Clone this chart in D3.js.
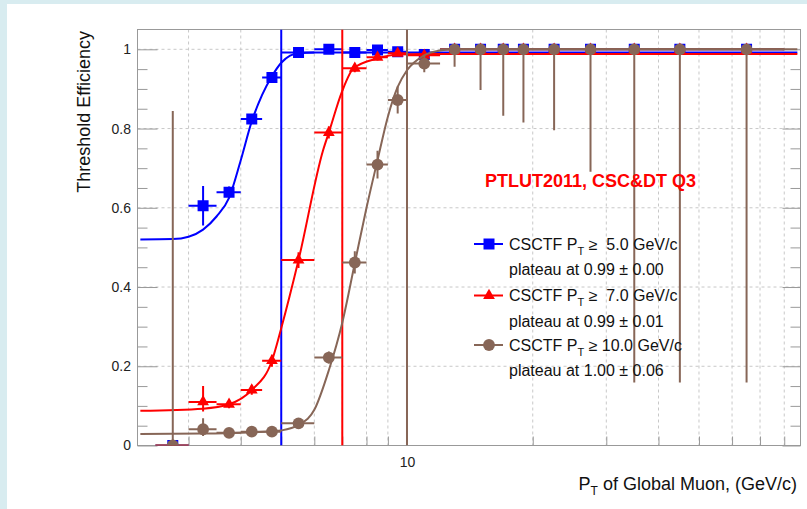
<!DOCTYPE html>
<html>
<head>
<meta charset="utf-8">
<script src="https://cdnjs.cloudflare.com/ajax/libs/d3/7.8.5/d3.min.js"></script>
<style>
  body { margin: 0; background: #d8ecf0; }
  svg { display: block; }
  text { font-family: "Liberation Sans", Arial, sans-serif; }
</style>
</head>
<body>
<script>
// bins of the muon pT (GeV/c)
var ptCenters    = [2.75, 3.25, 3.75, 4.25, 4.75, 5.5, 6.5, 7.5, 8.5, 9.5, 11, 13, 15, 17, 19, 22.5, 27.5, 35, 45, 65];
var ptHalfWidths = [0.25, 0.25, 0.25, 0.25, 0.25, 0.5, 0.5, 0.5, 0.5, 0.5, 1, 1, 1, 1, 1, 2.5, 2.5, 5, 5, 15];

// efficiency for CSCTF pT >= 5 GeV/c
var eff5   = [0, 0.605, 0.639, 0.824, 0.929, 0.992, 1.0, 0.992, 0.998, 0.994, 0.987, 1, 1, 1, 1, 1, 1, 1, 1, 1];
var eff5Lo = [0, 0.05, 0.015, 0.012, 0.01, 0.005, 0.004, 0.004, 0.003, 0.003, 0.004, 0, 0, 0, 0, 0, 0, 0, 0, 0];
var eff5Hi = [0, 0.05, 0.015, 0.012, 0.01, 0.005, 0, 0.004, 0.002, 0.003, 0.004, 0, 0, 0, 0, 0, 0, 0, 0, 0];

// efficiency for CSCTF pT >= 7 GeV/c
var eff7   = [0, 0.11, 0.104, 0.14, 0.214, 0.468, 0.79, 0.952, 0.98, 0.99, 0.985, 1, 1, 1, 1, 1, 1, 1, 1, 1];
var eff7Lo = [0, 0.024, 0.01, 0.012, 0.015, 0.02, 0.015, 0.01, 0.008, 0.006, 0.008, 0, 0, 0, 0, 0, 0, 0, 0, 0];
var eff7Hi = [0, 0.04, 0.01, 0.012, 0.015, 0.02, 0.015, 0.01, 0.008, 0.006, 0.008, 0, 0, 0, 0, 0, 0, 0, 0, 0];

// efficiency for CSCTF pT >= 10 GeV/c
var eff10   = [0, 0.041, 0.032, 0.035, 0.035, 0.056, 0.222, 0.462, 0.709, 0.872, 0.964, 1, 1, 1, 1, 1, 1, 1, 1, 1];
var eff10Lo = [0, 0.017, 0.008, 0.008, 0.008, 0.008, 0.015, 0.028, 0.035, 0.034, 0.022, 0.044, 0.103, 0.168, 0.185, 0.204, 0.309, 0.841, 0.841, 0.841];
var eff10Hi = [0.844, 0.028, 0.008, 0.008, 0.008, 0.008, 0.015, 0.028, 0.035, 0.034, 0.022, 0, 0, 0, 0, 0, 0, 0, 0, 0];

// fitted turn-on curves as [pT, efficiency]
var fit5  = [[2.3, 0.52], [2.75, 0.521], [3.0, 0.527], [3.25, 0.545], [3.5, 0.578], [3.75, 0.625], [4.0, 0.72], [4.25, 0.818],
             [4.5, 0.885], [4.75, 0.932], [5.0, 0.966], [5.25, 0.984], [5.5, 0.99], [6.0, 0.992], [86, 0.992]];
var fit7  = [[2.3, 0.0875], [3.25, 0.093], [3.75, 0.104], [4.25, 0.14], [4.75, 0.214], [5.0, 0.296], [5.5, 0.468], [6.3, 0.746],
             [6.5, 0.79], [7.0, 0.895], [7.45, 0.952], [8.5, 0.977], [9.55, 0.987], [11, 0.988], [86, 0.988]];
var fit10 = [[2.3, 0.029], [3.25, 0.03], [4.0, 0.032], [4.75, 0.036], [5.0, 0.038], [5.5, 0.052], [6.0, 0.09], [6.5, 0.19],
             [7.0, 0.31], [7.5, 0.46], [8.0, 0.6], [8.5, 0.72], [9.0, 0.83], [9.5, 0.905], [10, 0.947], [11, 0.985], [12, 0.997],
             [13, 1.0], [86, 1.0]];

var thresholds = [5.0, 7.0, 10.0];
var legendLabels = ["\u2265  5.0 GeV/c", "\u2265  7.0 GeV/c", "\u2265 10.0 GeV/c"];
var plateauLabels = ["plateau at 0.99 \u00b1 0.00", "plateau at 0.99 \u00b1 0.01", "plateau at 1.00 \u00b1 0.06"];

var xRange = [2.264, 87.5];
var yRange = [0, 1.05];
var xGridVals = [3, 4, 5, 6, 7, 8, 9, 10, 20, 30, 40, 50, 60, 70, 80];
var yMajorVals = [0, 0.2, 0.4, 0.6, 0.8, 1.0];
var yMinorVals = [0.05, 0.1, 0.15, 0.25, 0.3, 0.35, 0.45, 0.5, 0.55, 0.65, 0.7, 0.75, 0.85, 0.9, 0.95];

var width = 807, height = 509;
var frame = {left: 137.5, right: 800.5, top: 29.5, bottom: 445.5};

var svg = d3.select("body").append("svg")
            .attr("width", width)
            .attr("height", height);

svg.append("rect")
   .attr("x", 7).attr("y", 4)
   .attr("width", width - 7).attr("height", height - 4)
   .attr("fill", "#fff");

var x = d3.scaleLog().domain(xRange).range([frame.left, frame.right]);
var y = d3.scaleLinear().domain(yRange).range([frame.bottom, frame.top]);

svg.append("clipPath").attr("id", "clip")
   .append("rect")
   .attr("x", frame.left).attr("y", frame.top)
   .attr("width", frame.right - frame.left).attr("height", frame.bottom - frame.top);

// dashed grid
var grid = svg.append("g").attr("stroke", "#c8c8c8").attr("stroke-dasharray", "3,3").attr("stroke-width", 1);
grid.selectAll(".gx").data(xGridVals).enter().append("line")
    .attr("x1", function(d) { return x(d); }).attr("x2", function(d) { return x(d); })
    .attr("y1", frame.top).attr("y2", frame.bottom);
grid.selectAll(".gy").data(yMajorVals.slice(1)).enter().append("line")
    .attr("x1", frame.left).attr("x2", frame.right)
    .attr("y1", function(d) { return y(d); }).attr("y2", function(d) { return y(d); });

// axes (ticks drawn inside the frame like ROOT)
function styleAxis(g) {
  g.select(".domain").remove();
  g.selectAll("line").attr("stroke", "#999");
  g.selectAll("text").attr("fill", "#222").style("font-size", "14px")
   .style("font-family", "'Liberation Sans', Arial, sans-serif");
}
svg.append("g").attr("transform", "translate(0," + frame.bottom + ")")
   .call(d3.axisBottom(x).tickValues(xGridVals.filter(function(d) { return d != 10; }))
         .tickSizeInner(-9).tickSizeOuter(0).tickFormat(""))
   .call(styleAxis);
svg.append("g").attr("transform", "translate(0," + frame.bottom + ")")
   .call(d3.axisBottom(x).tickValues([10]).tickSizeInner(-15).tickSizeOuter(0).tickPadding(11.5)
         .tickFormat(d3.format("d")))
   .call(styleAxis);
svg.append("g").attr("transform", "translate(" + frame.left + ",0)")
   .call(d3.axisLeft(y).tickValues(yMajorVals).tickSizeInner(-20).tickSizeOuter(0).tickPadding(6.5)
         .tickFormat(d3.format("~g")))
   .call(styleAxis);
svg.append("g").attr("transform", "translate(" + frame.left + ",0)")
   .call(d3.axisLeft(y).tickValues(yMinorVals).tickSizeInner(-10).tickSizeOuter(0).tickFormat(""))
   .call(styleAxis);
svg.append("g").attr("transform", "translate(" + frame.right + ",0)")
   .call(d3.axisRight(y).tickValues(yMajorVals).tickSizeInner(-18).tickSizeOuter(0).tickFormat(""))
   .call(styleAxis);
svg.append("g").attr("transform", "translate(" + frame.right + ",0)")
   .call(d3.axisRight(y).tickValues(yMinorVals).tickSizeInner(-10).tickSizeOuter(0).tickFormat(""))
   .call(styleAxis);

svg.append("rect")
   .attr("x", frame.left).attr("y", frame.top)
   .attr("width", frame.right - frame.left).attr("height", frame.bottom - frame.top)
   .attr("fill", "none").attr("stroke", "#999").attr("stroke-width", 1);

var series = [
  {eff: eff5,  lo: eff5Lo,  hi: eff5Hi,  fit: fit5,  color: "#0000ff", symbol: d3.symbolSquare,   size: 121},
  {eff: eff7,  lo: eff7Lo,  hi: eff7Hi,  fit: fit7,  color: "#ff0000", symbol: d3.symbolTriangle, size: 60},
  {eff: eff10, lo: eff10Lo, hi: eff10Hi, fit: fit10, color: "#876657", symbol: d3.symbolCircle,   size: 110}
];

var plot = svg.append("g").attr("clip-path", "url(#clip)");
var fitLine = d3.line()
                .x(function(d) { return x(d[0]); })
                .y(function(d) { return y(d[1]); })
                .curve(d3.curveMonotoneX);

series.forEach(function(s, k) {
  var g = plot.append("g");
  var pts = ptCenters.map(function(pt, i) {
    return {pt: pt, hw: ptHalfWidths[i], v: s.eff[i], lo: s.lo[i], hi: s.hi[i]};
  });

  g.append("path").datum(s.fit)
   .attr("d", fitLine)
   .attr("fill", "none").attr("stroke", s.color).attr("stroke-width", 2);

  // horizontal error bars = bin width
  g.selectAll(".ex").data(pts).enter().append("line")
   .attr("x1", function(d) { return x(d.pt - d.hw); })
   .attr("x2", function(d) { return x(d.pt + d.hw); })
   .attr("y1", function(d) { return y(d.v); }).attr("y2", function(d) { return y(d.v); })
   .attr("stroke", s.color).attr("stroke-width", 2);
  // vertical error bars
  g.selectAll(".ey").data(pts).enter().append("line")
   .attr("x1", function(d) { return x(d.pt); }).attr("x2", function(d) { return x(d.pt); })
   .attr("y1", function(d) { return y(d.v - d.lo); })
   .attr("y2", function(d) { return y(d.v + d.hi); })
   .attr("stroke", s.color).attr("stroke-width", 2);

  g.selectAll(".mk").data(pts).enter().append("path")
   .attr("d", d3.symbol().type(s.symbol).size(s.size))
   .attr("transform", function(d) { return "translate(" + x(d.pt) + "," + y(d.v) + ")"; })
   .attr("fill", s.color);

  // threshold line
  plot.append("line")
      .attr("x1", x(thresholds[k])).attr("x2", x(thresholds[k]))
      .attr("y1", frame.top).attr("y2", frame.bottom)
      .attr("stroke", s.color).attr("stroke-width", 2);
});

// title inside the frame
svg.append("text")
   .attr("x", 485).attr("y", 186.7)
   .attr("fill", "#ff0000").style("font-size", "18px").style("font-weight", "bold")
   .text("PTLUT2011, CSC&DT Q3");

// legend
var legendY = [244, 295.5, 345];
var legend = svg.append("g");
series.forEach(function(s, k) {
  var ly = legendY[k];
  legend.append("line")
        .attr("x1", 474).attr("x2", 503).attr("y1", ly).attr("y2", ly)
        .attr("stroke", s.color).attr("stroke-width", 2);
  legend.append("path")
        .attr("d", d3.symbol().type(s.symbol).size(s.size))
        .attr("transform", "translate(489," + ly + ")")
        .attr("fill", s.color);
  var t = legend.append("text")
                .attr("x", 509).attr("y", ly + 5.5)
                .attr("fill", "#111").style("font-size", "16px").style("white-space", "pre");
  t.append("tspan").text("CSCTF P");
  t.append("tspan").attr("dy", 5).style("font-size", "11px").text("T");
  t.append("tspan").attr("dy", -5).text(" " + legendLabels[k]);
  legend.append("text")
        .attr("x", 509).attr("y", ly + 31)
        .attr("fill", "#111").style("font-size", "16px")
        .text(plateauLabels[k]);
});

// axis titles
svg.append("text")
   .attr("transform", "translate(89.5,31) rotate(-90)")
   .attr("text-anchor", "end")
   .attr("fill", "#111").style("font-size", "18px")
   .text("Threshold Efficiency");

var xt = svg.append("text")
            .attr("x", 797).attr("y", 490)
            .attr("text-anchor", "end")
            .attr("fill", "#111").style("font-size", "18px");
xt.append("tspan").text("P");
xt.append("tspan").attr("dy", 5).style("font-size", "12px").text("T");
xt.append("tspan").attr("dy", -5).text(" of Global Muon, (GeV/c)");
</script>
</body>
</html>
